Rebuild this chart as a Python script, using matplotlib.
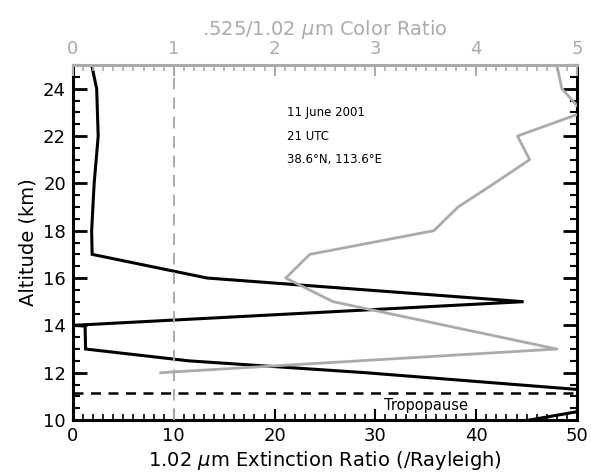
import matplotlib
matplotlib.use("Agg")
import matplotlib.pyplot as plt
from matplotlib.ticker import MultipleLocator

# extinction ratio profile (black), altitude in km
ext_alt = [25, 24, 22, 20, 18, 17, 16, 15, 14, 13.97, 13, 12.5, 12, 11, 10]
ext_ratio = [1.85, 2.35, 2.5, 2.1, 1.85, 1.9, 13.3, 44.7, 0.0, 1.2, 1.25, 11.5, 29.0, 58.7, 45.3]

# color ratio profile (grey)
cr_alt = [25, 24, 23, 22, 21, 20, 19, 18, 17, 16, 15, 14, 13, 12]
cr_ratio = [4.80, 4.85, 5.06, 4.41, 4.53, 4.18, 3.82, 3.58, 2.35, 2.11, 2.58, 3.69, 4.80, 0.87]

tropopause = 11.15
info_lines = ["11 June 2001", "21 UTC", "38.6°N, 113.6°E"]
info_alt = [23, 22, 21]

grey = "#ababab"

fig = plt.figure(figsize=(5.91, 4.76), dpi=100)
ax = fig.add_axes([0.1235, 0.1176, 0.8528, 0.7458])
ax.set_xlim(0, 50)
ax.set_ylim(10, 25)

ax.plot(ext_ratio, ext_alt, color="black", lw=2.2, solid_joinstyle="miter")
ax.axhline(tropopause, color="black", lw=1.8, dashes=(4, 3))
ax.text(35, 10.62, "Tropopause", ha="center", va="center", fontsize=10.5)
for txt, a in zip(info_lines, info_alt):
    ax.text(21.2, a, txt, ha="left", va="center", fontsize=8.5)

ax.set_xlabel("1.02 $\\mu$m Extinction Ratio (/Rayleigh)", fontsize=14, labelpad=3)
ax.set_ylabel("Altitude (km)", fontsize=14, labelpad=4)
ax.xaxis.set_major_locator(MultipleLocator(10))
ax.xaxis.set_minor_locator(MultipleLocator(1))
ax.yaxis.set_major_locator(MultipleLocator(2))
ax.yaxis.set_minor_locator(MultipleLocator(0.5))
ax.tick_params(axis="both", which="major", direction="in", length=10, width=2,
               labelsize=13, right=True, top=False, pad=5)
ax.tick_params(axis="both", which="minor", direction="in", length=5, width=1.5,
               right=True, top=False)
ax.tick_params(axis="x", which="minor", length=4, width=1.2)
ax.tick_params(axis="x", which="major", length=8, width=1.5)
for s in ["left", "bottom", "right"]:
    ax.spines[s].set_linewidth(2.2)
ax.spines["top"].set_visible(False)

# top axis: color ratio
ax2 = ax.twiny()
ax2.set_xlim(0, 5)
ax2.axvline(1, color=grey, lw=1.4, dashes=(6, 4))
ax2.plot(cr_ratio, cr_alt, color=grey, lw=2.0)
ax2.set_xlabel(".525/1.02 $\\mu$m Color Ratio", fontsize=14, color=grey, labelpad=4)
ax2.xaxis.set_major_locator(MultipleLocator(1))
ax2.xaxis.set_minor_locator(MultipleLocator(0.1))
ax2.tick_params(axis="x", which="major", direction="in", length=8, width=1.5,
                colors=grey, labelsize=13, pad=5)
ax2.tick_params(axis="x", which="minor", direction="in", length=4, width=1.2, colors=grey)
ax2.spines["top"].set_color(grey)
ax2.spines["top"].set_linewidth(2.2)
for s in ["left", "bottom", "right"]:
    ax2.spines[s].set_visible(False)

fig.savefig("out.png", dpi=100)
